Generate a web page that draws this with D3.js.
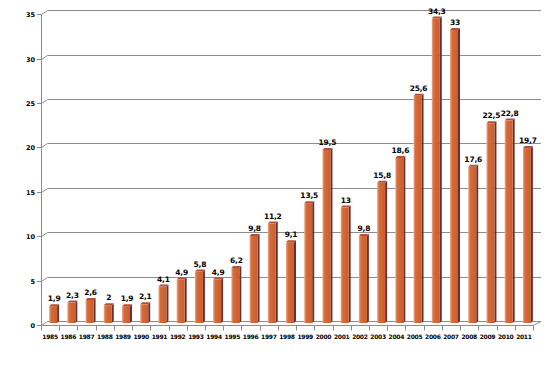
<!DOCTYPE html>
<html><head><meta charset="utf-8">
<script src="https://cdn.jsdelivr.net/npm/d3@7"></script>
<style>html,body{margin:0;padding:0;background:#fff;}svg{display:block;}</style>
</head><body>
<svg id="c" width="558" height="365"></svg>
<script>
const years = ["1985","1986","1987","1988","1989","1990","1991","1992","1993","1994","1995","1996","1997","1998","1999","2000","2001","2002","2003","2004","2005","2006","2007","2008","2009","2010","2011"];
const values = [1.9,2.3,2.6,2,1.9,2.1,4.1,4.9,5.8,4.9,6.2,9.8,11.2,9.1,13.5,19.5,13,9.8,15.8,18.6,25.6,34.3,33,17.6,22.5,22.8,19.7];
const yTicks = [0,5,10,15,20,25,30,35];

const svg = d3.select("#c");
const x = d3.scaleBand().domain(years).range([41, 533]).paddingInner(0).paddingOuter(0);
const y = d3.scaleLinear().domain([0, 35]).range([325, 14.3]);
const dx = 6, dy = -4; // depth offset
const grid = "#8c8c8c";

const defs = svg.append("defs");
const g1 = defs.append("linearGradient").attr("id","front").attr("x1","0").attr("x2","1").attr("y1","0").attr("y2","0");
g1.append("stop").attr("offset","0").attr("stop-color","#ecae90");
g1.append("stop").attr("offset","0.25").attr("stop-color","#d66c3c");
g1.append("stop").attr("offset","1").attr("stop-color","#c85e2e");

const r = v => Math.round(v) + 0.5;

// gridlines with depth links
yTicks.forEach(t => {
  const yy = r(y(t));
  svg.append("line").attr("x1", 41.5).attr("y1", yy).attr("x2", 41.5+dx).attr("y2", yy+dy).attr("stroke", grid);
  if (t > 0) svg.append("line").attr("x1", 41.5+dx).attr("y1", yy+dy).attr("x2", 533+dx+2).attr("y2", yy+dy).attr("stroke", grid);
  svg.append("line").attr("x1", 37).attr("y1", yy).attr("x2", 41).attr("y2", yy).attr("stroke", grid);
  svg.append("text").attr("x", 35).attr("y", yy).attr("dy","0.35em").attr("text-anchor","end")
    .attr("font-family","DejaVu Sans").attr("font-weight","bold").attr("font-size","6.5px").attr("fill","#000").text(t);
});
const y0 = r(y(0));
// floor back line
svg.append("line").attr("x1", 41.5+dx).attr("y1", y0+dy).attr("x2", 533+dx+2).attr("y2", y0+dy).attr("stroke", grid);
svg.append("line").attr("x1", 533).attr("y1", y0).attr("x2", 533+dx+2).attr("y2", y0+dy).attr("stroke", grid);
// y axis
svg.append("line").attr("x1", 41.5).attr("y1", r(y(35))).attr("x2", 41.5).attr("y2", y0).attr("stroke", grid);
// x axis
svg.append("line").attr("x1", 41).attr("y1", y0).attr("x2", 533).attr("y2", y0).attr("stroke", grid);
years.forEach((yr, i) => {
  const xx = r(x(yr));
  svg.append("line").attr("x1", xx).attr("y1", y0).attr("x2", xx).attr("y2", y0+5).attr("stroke", grid);
});
svg.append("line").attr("x1", 533.5).attr("y1", y0).attr("x2", 533.5).attr("y2", y0+5).attr("stroke", grid);
years.forEach(yr => {
  svg.append("text").attr("x", x(yr)+x.bandwidth()/2).attr("y", 339).attr("text-anchor","middle")
    .attr("font-family","DejaVu Sans").attr("font-weight","bold").attr("font-size","6px").attr("fill","#000")
    .attr("letter-spacing","-0.3px").text(yr);
});

// bars
const bw = 8, sw = 2, th = 2;
years.forEach((yr, i) => {
  const v = values[i];
  const cx = x(yr) + x.bandwidth()/2 + 3;
  const x0 = cx - bw/2;
  const yb = y(0) - 2;
  const yt = y(v) - 2;
  // side
  svg.append("path").attr("d", `M${x0+bw},${yb} L${x0+bw+sw},${yb-th} L${x0+bw+sw},${yt-th} L${x0+bw},${yt} Z`).attr("fill","#6e2e2c");
  // top
  svg.append("path").attr("d", `M${x0},${yt} L${x0+sw},${yt-th} L${x0+bw+sw},${yt-th} L${x0+bw},${yt} Z`).attr("fill","#b0503a");
  // front
  svg.append("rect").attr("x", x0).attr("y", yt).attr("width", bw).attr("height", yb-yt).attr("fill","url(#front)");
  // label
  svg.append("text").attr("x", cx+1).attr("y", yt-5).attr("text-anchor","middle")
    .attr("font-family","DejaVu Sans").attr("font-weight","bold").attr("font-size","7.5px").attr("fill","#000")
    .attr("letter-spacing","-0.2px").text(String(v).replace(".", ","));
});
</script>
</body></html>
